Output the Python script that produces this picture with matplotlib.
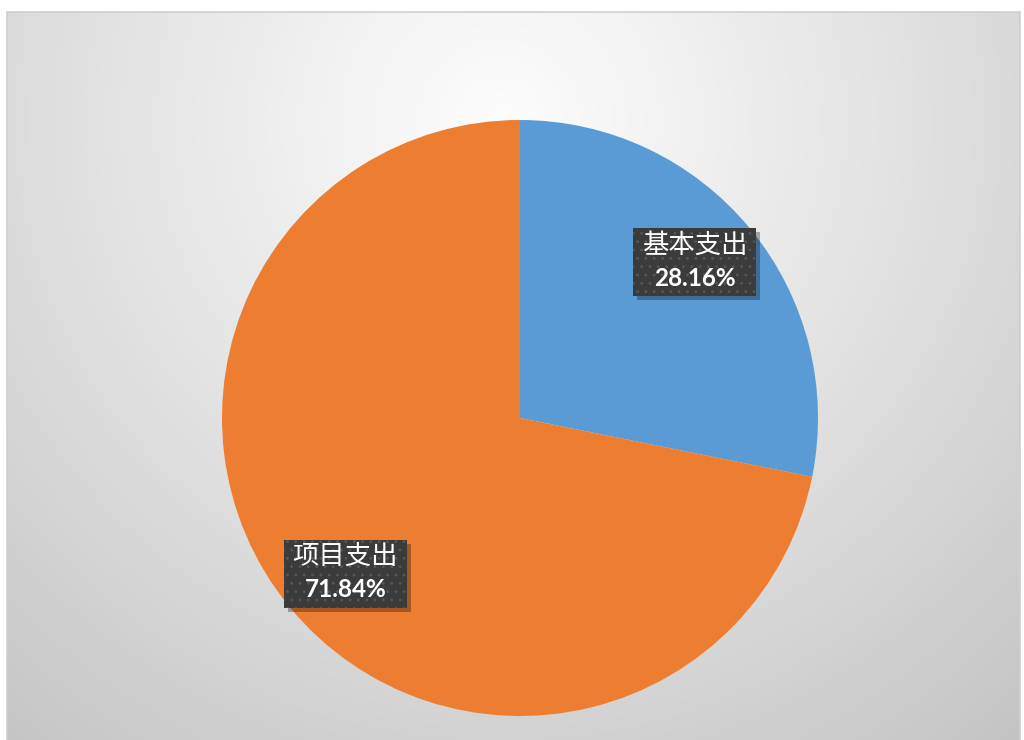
import numpy as np
import matplotlib.pyplot as plt
from matplotlib.patches import Rectangle

plt.rcParams['font.family'] = ['Noto Sans CJK SC', 'DejaVu Sans']
plt.rcParams['hatch.linewidth'] = 0.8

# 数据
labels = ['基本支出', '项目支出']
values = [28.16, 71.84]
pct_labels = ['28.16%', '71.84%']
colors = ['#5B9BD5', '#ED7D31']

W, H = 1024, 740
fig = plt.figure(figsize=(W / 100, H / 100), dpi=100)
ax = fig.add_axes([0, 0, 1, 1])

# 背景渐变 (径向)
yy, xx = np.mgrid[0:H, 0:W]
d = np.sqrt((xx - 500) ** 2 + (yy - 120) ** 2) / 800
d = np.clip(d, 0, 1)
grad = 0.99 - 0.22 * d ** 1.1
rgb = np.dstack([grad, grad, grad])
x0, y0, x1 = 7, 12, 1020
ax.imshow(rgb[y0:, x0:x1], extent=[x0, x1, 0, H - y0], origin='upper',
          zorder=0, aspect='auto')
ax.add_patch(Rectangle((x0, -2), x1 - x0, H - y0 + 2, fill=False,
                       edgecolor='#cfcfcf', lw=1.2, zorder=1))

# 饼图
cx, cy, r = 520, H - 418, 298
wedges, _ = ax.pie(values, colors=colors, startangle=90, counterclock=False,
                   center=(cx, cy), radius=r, frame=True,
                   wedgeprops=dict(linewidth=0))
for w in wedges:
    w.set_zorder(3)
ax.set_xlim(0, W)
ax.set_ylim(0, H)
ax.set_aspect('auto')
ax.axis('off')

# 数据标签
bw, bh = 123, 68
for w, lab, pct in zip(wedges, labels, pct_labels):
    ang = np.deg2rad((w.theta1 + w.theta2) / 2 + 2.4)
    lx = cx + 0.785 * r * np.cos(ang)
    ly = cy + 0.785 * r * np.sin(ang)
    ax.add_patch(Rectangle((lx - bw / 2 + 4, ly - bh / 2 - 4), bw, bh,
                           facecolor='black', alpha=0.3, lw=0, zorder=4))
    ax.add_patch(Rectangle((lx - bw / 2, ly - bh / 2), bw, bh,
                           facecolor='#3b3b3b', edgecolor='#565656',
                           hatch='..', lw=0, zorder=5))
    ax.text(lx, ly + 17, lab, color='white', fontsize=19,
            ha='center', va='center', zorder=6)
    ax.text(lx, ly - 16, pct, color='white', fontsize=17.5, fontweight='bold',
            family=['Lato', 'DejaVu Sans'], ha='center', va='center', zorder=6)

fig.savefig('out.png', dpi=100)
